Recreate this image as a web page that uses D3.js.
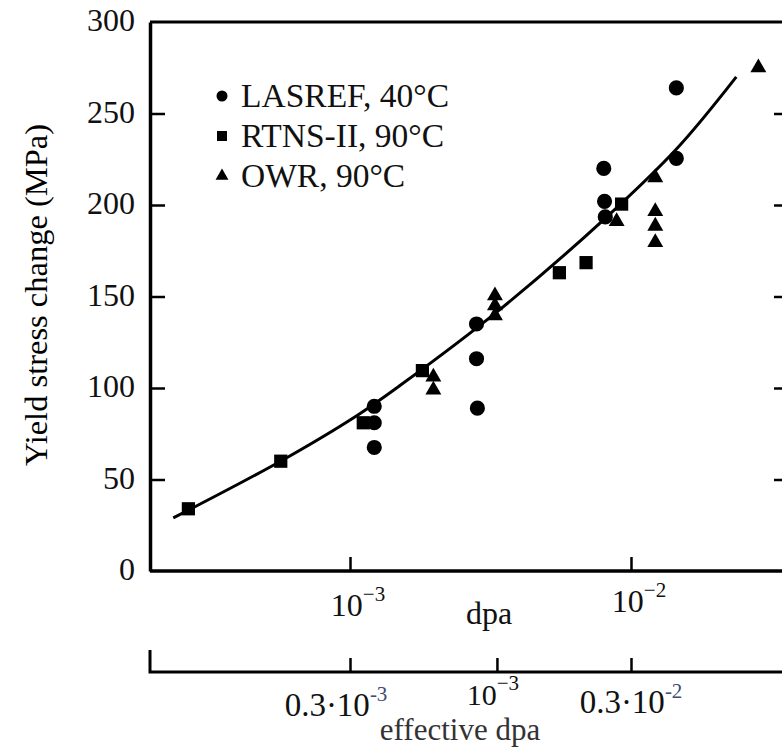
<!DOCTYPE html>
<html>
<head>
<meta charset="utf-8">
<script src="https://cdn.jsdelivr.net/npm/d3@7"></script>
<style>
	body { margin: 0; background: #fff; }
	svg { display: block; }
	text { font-family: "Liberation Serif", "Times New Roman", serif; fill: #111; }
	.axis path, .axis line { stroke: #000; }
</style>
</head>
<body>
<div id="chart"></div>
<script>

	// values: [dpa, yield stress change in MPa]
	const lasref = [
		[1.22e-3, 90], [1.22e-3, 81], [1.22e-3, 67.5],
		[2.82e-3, 135], [2.82e-3, 116], [2.84e-3, 89],
		[8.0e-3, 220], [8.05e-3, 202], [8.1e-3, 193.5],
		[1.45e-2, 264], [1.45e-2, 225.5]
	];

	const rtns = [
		[2.66e-4, 34], [5.67e-4, 60], [1.115e-3, 81], [1.81e-3, 109.5],
		[5.56e-3, 163], [6.92e-3, 168.5], [9.26e-3, 200.5]
	];

	const owr = [
		[1.98e-3, 106], [1.98e-3, 99],
		[3.28e-3, 150.5], [3.28e-3, 145], [3.28e-3, 139.5],
		[8.89e-3, 191],
		[1.22e-2, 215], [1.22e-2, 196.5], [1.22e-2, 188.5], [1.22e-2, 179.5],
		[2.84e-2, 275]
	];

	const fitCurve = [
		[2.35e-4, 29], [5.66e-4, 60], [1.06e-3, 85], [1.51e-3, 101.5],
		[3.42e-3, 143], [8.13e-3, 193], [1.46e-2, 231], [2.37e-2, 270]
	];

	const series = [
		{ name: "LASREF, 40°C", type: "circle", values: lasref },
		{ name: "RTNS-II, 90°C", type: "square", values: rtns },
		{ name: "OWR, 90°C", type: "triangle", values: owr }
	];

	const yTicks = [0, 50, 100, 150, 200, 250, 300];
	const dpaTicks = [ { v: 1e-3, base: "10", exp: "−3" }, { v: 1e-2, base: "10", exp: "−2" } ];
	const effTicks = [
		{ v: 0.3e-3, base: "0.3·10", exp: "-3", dx: -20, y: 716 },
		{ v: 1e-3, base: "10", exp: "−3", dx: -10, y: 705 },
		{ v: 3e-3, base: "0.3·10", exp: "-2", dx: -6, y: 713 }
	];

	const width = 782;
	const height = 747;
	const fontSize = 32;

	const plotLeft = 150, plotTop = 22, plotBottom = 571, axis2 = 672;

	const x = d3.scaleLog().domain([1e-3, 1e-2]).range([350, 631]);
	const xEff = d3.scaleLog().domain([0.3e-3, 3e-3]).range([350, 631]);
	const y = d3.scaleLinear().domain([0, 300]).range([plotBottom, plotTop]);

	const symbols = {
		circle: { data: d3.symbolCircle, size: 180, legend: 95 },
		square: { data: d3.symbolSquare, size: 175, legend: 100 },
		triangle: { data: d3.symbolTriangle, size: 110, legend: 72 }
	};

	const svg = d3.select("#chart")
		.append("svg")
			.attr("width", width)
			.attr("height", height);

	// frame: left axis, top border
	svg.append("line")
		.attr("x1", plotLeft).attr("x2", width)
		.attr("y1", plotTop).attr("y2", plotTop)
		.attr("stroke", "#000").attr("stroke-width", 3);

	const yAxis = svg.append("g")
		.attr("class", "axis")
		.attr("transform", `translate(${plotLeft},0)`)
		.call(d3.axisLeft(y).tickValues(yTicks).tickSize(-15).tickSizeOuter(0).tickPadding(15));

	yAxis.select(".domain").attr("stroke-width", 3.5);
	yAxis.selectAll(".tick line").attr("stroke-width", 2.5);
	yAxis.selectAll(".tick").filter((d) => d === 0 || d === 300).select("line").remove();
	yAxis.selectAll("text")
		.attr("font-size", fontSize)
		.attr("dy", "0.28em")
		.style("font-family", "'Liberation Serif', serif")
		.attr("fill", "#111");

	// right side ticks (axis itself is cut off by the edge)
	svg.append("g")
		.attr("class", "axis")
		.attr("transform", `translate(${width + 2},0)`)
		.call(d3.axisRight(y).tickValues([50, 100, 150, 200, 250]).tickSize(-10).tickSizeOuter(0).tickFormat(""))
		.call((g) => g.selectAll(".tick line").attr("stroke-width", 2.5));

	svg.append("text")
		.attr("transform", `translate(47, 295) rotate(-90)`)
		.attr("text-anchor", "middle")
		.attr("font-size", 32.5)
		.style("fill", "#000")
		.text("Yield stress change (MPa)");

	// dpa axis
	const xAxis = svg.append("g")
		.attr("class", "axis")
		.attr("transform", `translate(0,${plotBottom})`)
		.call(d3.axisBottom(x).tickValues(dpaTicks.map((d) => d.v)).tickSize(-14).tickSizeOuter(0).tickFormat(""));

	xAxis.select(".domain").attr("d", `M${plotLeft},0H${width}`).attr("stroke-width", 3.5);
	xAxis.selectAll(".tick line").attr("stroke-width", 2.5);

	const dpaLabels = svg.append("g")
		.selectAll("text")
			.data(dpaTicks).enter()
		.append("text")
			.attr("x", (d) => x(d.v) + 8)
			.attr("y", (d, i) => i === 0 ? 616 : 612)
			.attr("text-anchor", "middle")
			.attr("font-size", fontSize);
	dpaLabels.append("tspan").text((d) => d.base);
	dpaLabels.append("tspan")
		.attr("dy", -15)
		.attr("font-size", 21)
		.text((d) => d.exp);

	svg.append("text")
		.attr("x", 489)
		.attr("y", 624)
		.attr("text-anchor", "middle")
		.attr("font-size", fontSize)
		.text("dpa");

	// effective dpa axis
	const effAxis = svg.append("g")
		.attr("class", "axis")
		.attr("transform", `translate(0,${axis2})`)
		.call(d3.axisBottom(xEff).tickValues(effTicks.map((d) => d.v)).tickSize(-14).tickSizeOuter(0).tickFormat(""));

	effAxis.select(".domain").attr("d", `M${plotLeft},-22V0H${width}`).attr("stroke-width", 3);
	effAxis.selectAll(".tick line").attr("stroke-width", 2.5);

	const effLabels = svg.append("g")
		.selectAll("text")
			.data(effTicks).enter()
		.append("text")
			.attr("x", (d) => xEff(d.v) + 6 + d.dx)
			.attr("y", (d) => d.y)
			.attr("text-anchor", "middle")
			.attr("font-size", (d, i) => i === 1 ? 30 : 33);
	effLabels.append("tspan").text((d) => d.base);
	effLabels.append("tspan")
		.attr("dy", -15)
		.attr("font-size", 21)
		.style("fill", (d, i) => i === 1 ? "#111" : "#3d4c78")
		.text((d) => d.exp);

	svg.append("text")
		.attr("x", 460)
		.attr("y", 740)
		.attr("text-anchor", "middle")
		.attr("font-size", 31)
		.style("fill", "#333")
		.text("effective dpa");

	// fitted curve
	const line = d3.line()
		.x((d) => x(d[0]))
		.y((d) => y(d[1]))
		.curve(d3.curveCatmullRom);

	svg.append("path")
		.datum(fitCurve)
		.attr("d", line)
		.attr("fill", "none")
		.attr("stroke", "#000")
		.attr("stroke-width", 3);

	// data points
	const groups = svg.selectAll(".series")
		.data(series).enter()
		.append("g")
			.attr("class", "series");

	groups.selectAll("path")
		.data((s) => s.values.map((v) => ({ v, type: s.type })))
		.enter()
		.append("path")
			.attr("transform", (d) => `translate(${x(d.v[0])},${y(d.v[1])})`)
			.attr("d", (d) => d3.symbol(symbols[d.type].data, symbols[d.type].size)())
			.attr("fill", "#000");

	// legend
	const legend = svg.append("g")
		.attr("transform", "translate(222, 96)");

	const items = legend.selectAll("g")
		.data(series).enter()
		.append("g")
			.attr("transform", (d, i) => `translate(0, ${i * 40})`);

	items.append("path")
		.attr("d", (d) => d3.symbol(symbols[d.type].data, symbols[d.type].legend)())
		.attr("fill", "#000");

	items.append("text")
		.attr("x", 19)
		.attr("y", 11)
		.attr("font-size", 33.5)
		.text((d) => d.name);

</script>
</body>
</html>
